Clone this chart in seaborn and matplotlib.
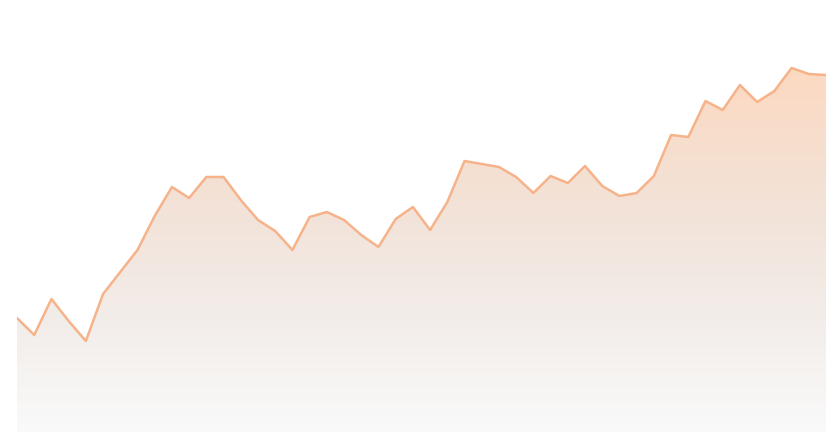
import numpy as np
import pandas as pd
import matplotlib
matplotlib.use("Agg")
import matplotlib.pyplot as plt
import seaborn as sns
from matplotlib.colors import LinearSegmentedColormap

# series values (arbitrary units)
values = [114, 97, 133, 111, 91, 138, 160, 182, 216, 245, 234, 255,
          255, 232, 212, 201, 182, 215, 220, 212, 197, 185, 213, 225,
          202, 230, 271, 268, 265, 255, 239, 256, 249, 266, 246, 236,
          239, 256, 297, 295, 331, 322, 347, 330, 341, 364, 358, 357]
steps = list(range(len(values)))

line_color = "#F6B38A"
grad_stops = [(0.0, "#FAFAFA"), (0.28, "#F3EEEB"), (0.6, "#F2E3D9"), (1.0, "#FCD9C1")]

sns.set_theme(style="white")
df = pd.DataFrame({"step": steps, "value": values})

fig = plt.figure(figsize=(8.26, 4.32), dpi=100)
ax = fig.add_axes([17 / 826, 0, 809 / 826, 1])

ymax = 432
ax.set_xlim(0, len(values) - 1)
ax.set_ylim(0, ymax)

# gradient fill under the line
cmap = LinearSegmentedColormap.from_list("peach", grad_stops)
top = max(values)
grad = np.linspace(0, 1, 256).reshape(-1, 1)
img = ax.imshow(grad, cmap=cmap, aspect="auto", origin="lower",
                extent=(0, len(values) - 1, 0, top), zorder=1)
poly = ax.fill_between(df["step"], df["value"], 0, color="none", lw=0)
img.set_clip_path(poly.get_paths()[0], transform=ax.transData)

sns.lineplot(data=df, x="step", y="value", ax=ax, color=line_color,
             linewidth=1.8, zorder=3)

ax.set_axis_off()
fig.savefig("out.png", dpi=100)
